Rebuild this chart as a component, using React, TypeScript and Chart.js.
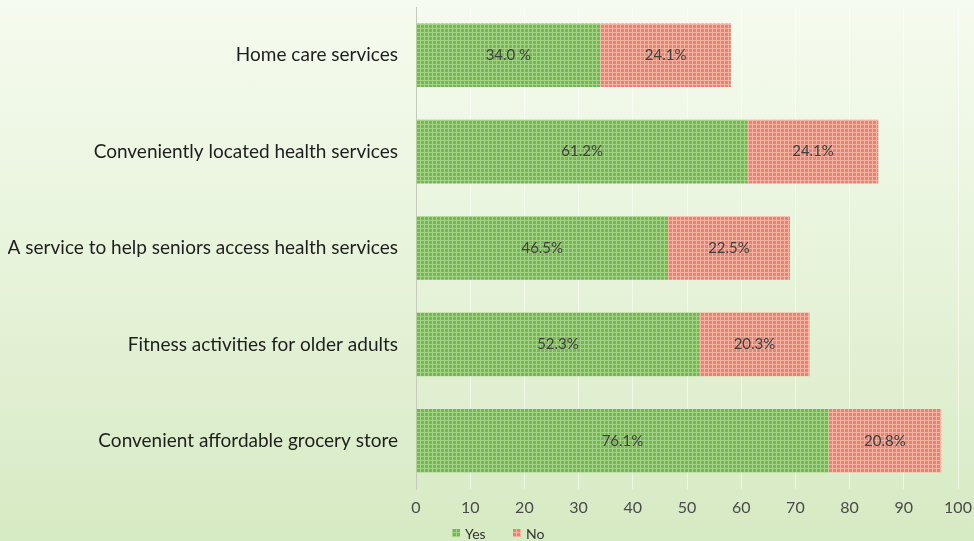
import React, { useEffect, useRef } from "react";
import { Chart, registerables } from "chart.js";

Chart.register(...registerables);

const categories = [
  "Home care services",
  "Conveniently located health services",
  "A service to help seniors access health services",
  "Fitness activities for older adults",
  "Convenient affordable grocery store",
];
const yesValues = [34.0, 61.2, 46.5, 52.3, 76.1];
const noValues = [24.1, 24.1, 22.5, 20.3, 20.8];
const yesLabels = ["34.0 %", "61.2%", "46.5%", "52.3%", "76.1%"];
const noLabels = ["24.1%", "24.1%", "22.5%", "20.3%", "20.8%"];
const seriesNames = ["Yes", "No"];

const FONT = "Lato, 'Open Sans', sans-serif";

function makePattern(base: string, line: string): CanvasPattern | string {
  const c = document.createElement("canvas");
  c.width = 4;
  c.height = 4;
  const ctx = c.getContext("2d");
  if (!ctx) return base;
  ctx.fillStyle = base;
  ctx.fillRect(0, 0, 4, 4);
  ctx.fillStyle = line;
  ctx.fillRect(0, 0, 4, 1);
  ctx.fillRect(0, 0, 1, 4);
  const p = ctx.createPattern(c, "repeat");
  return p || base;
}

const segmentLabels = {
  id: "segmentLabels",
  afterDatasetsDraw(chart: any) {
    const ctx = chart.ctx;
    const texts = [yesLabels, noLabels];
    ctx.save();
    ctx.font = `15px ${FONT}`;
    ctx.fillStyle = "#404040";
    ctx.textAlign = "center";
    ctx.textBaseline = "middle";
    chart.data.datasets.forEach((_: any, di: number) => {
      const meta = chart.getDatasetMeta(di);
      meta.data.forEach((bar: any, i: number) => {
        const cx = (bar.x + bar.base) / 2;
        ctx.fillText(texts[di][i], cx, bar.y);
      });
    });
    ctx.restore();
  },
};

const bottomLegend = {
  id: "bottomLegend",
  afterDraw(chart: any) {
    const ctx = chart.ctx;
    const y = 533;
    const starts = [452, 513];
    ctx.save();
    ctx.font = `14px ${FONT}`;
    ctx.textBaseline = "middle";
    ctx.textAlign = "left";
    chart.data.datasets.forEach((ds: any, di: number) => {
      const x = starts[di];
      ctx.fillStyle = ds.backgroundColor;
      ctx.fillRect(x, y - 4, 8, 8);
      ctx.fillStyle = "#333333";
      ctx.fillText(ds.label, x + 13, y + 1);
    });
    ctx.restore();
  },
};

export default function App() {
  const ref = useRef<HTMLCanvasElement | null>(null);

  useEffect(() => {
    document.body.style.margin = "0";
    if (!ref.current) return;
    const green = makePattern("#76b654", "#a3d385");
    const red = makePattern("#e9836f", "#f5b3a3");
    const chart = new Chart(ref.current, {
      type: "bar",
      data: {
        labels: categories,
        datasets: [
          {
            label: seriesNames[0],
            data: yesValues,
            backgroundColor: green as any,
            borderWidth: 0,
            barPercentage: 0.66,
            categoryPercentage: 1,
          },
          {
            label: seriesNames[1],
            data: noValues,
            backgroundColor: red as any,
            borderWidth: 0,
            barPercentage: 0.66,
            categoryPercentage: 1,
          },
        ],
      },
      options: {
        indexAxis: "y",
        animation: false,
        responsive: false,
        maintainAspectRatio: false,
        layout: { padding: { top: 7, left: 8, right: 2, bottom: 16 } },
        scales: {
          x: {
            stacked: true,
            min: 0,
            max: 100,
            ticks: {
              stepSize: 10,
              padding: 9,
              color: "#4a4a4a",
              font: { family: FONT, size: 16 },
            },
            grid: {
              color: "rgba(255,255,255,0.55)",
              drawTicks: false,
            },
            border: { display: false },
            afterFit: (scale: any) => {
              scale.height = 36;
              scale.paddingRight = 16;
              scale.paddingLeft = 0;
            },
          },
          y: {
            stacked: true,
            ticks: {
              padding: 18,
              color: "#1e1e1e",
              font: { family: FONT, size: 19 },
            },
            grid: { display: false, drawTicks: false },
            border: { display: true, color: "#c4cbbd", width: 1 },
            afterFit: (scale: any) => {
              scale.width = 408;
              scale.paddingTop = 0;
              scale.paddingBottom = 0;
            },
          },
        },
        plugins: {
          legend: { display: false },
          tooltip: { enabled: false },
        },
      },
      plugins: [segmentLabels, bottomLegend],
    });
    return () => chart.destroy();
  }, []);

  return (
    <div
      style={{
        position: "fixed",
        left: 0,
        top: 0,
        width: 974,
        height: 541,
        background: "linear-gradient(180deg, #f6fbef 0%, #e8f4dc 45%, #d6eac3 100%)",
      }}
    >
      <canvas ref={ref} width={974} height={541} style={{ display: "block" }} />
    </div>
  );
}
